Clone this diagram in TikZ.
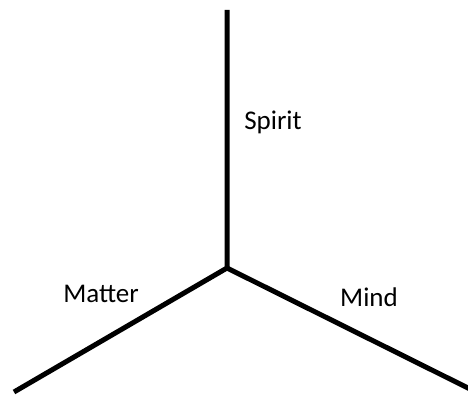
\documentclass[tikz,border=0pt]{standalone}
\usepackage{fontspec}
\setmainfont{Carlito}
\usetikzlibrary{positioning}

\begin{document}
\begin{tikzpicture}[
    x=1pt, y=-1pt,
    axis/.style={line width=5pt, black},
    word/.style={anchor=base, inner sep=0pt, font=\fontsize{27}{31}\selectfont}
]
\useasboundingbox (0,0) rectangle (468,395);

% Meeting point and line ends
\coordinate (centre) at (227,268);
\coordinate (top) at (227,10);
\coordinate (lower left) at (14,392);
\coordinate (lower right) at (470,389);

% The three axes
\draw[axis] (top) -- (centre) -- (lower left);
\draw[axis] (centre) -- (lower right);

% Labels
\node[word] (spirit) at (273,130) {Spirit};
\node[word] (matter) at (101,302) {Matter};
\node[word] (mind) at (369,306) {Mind};

\end{tikzpicture}
\end{document}
